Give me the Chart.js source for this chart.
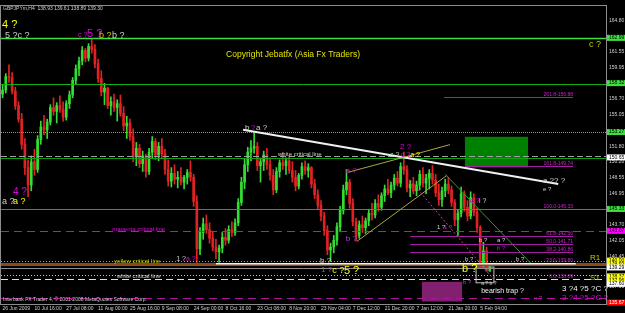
<!DOCTYPE html>
<html lang="en">
<head>
<meta charset="UTF-8">
<title>GBPJPYm,H4</title>
<script src="https://cdn.jsdelivr.net/npm/chart.js"></script>
<style>
  html, body { margin: 0; padding: 0; background: #000; }
  canvas { display: block; }
</style>
</head>
<body>
<canvas id="chart" width="625" height="313"></canvas>
<script>
// ---- time axis: one label every 10 bars ----
const timeLabels = ['26 Jun 2009', '10 Jul 16:00', '27 Jul 08:00', '11 Aug 00:00', '25 Aug 16:00',
  '9 Sep 08:00', '24 Sep 00:00', '8 Oct 16:00', '23 Oct 08:00', '8 Nov 20:00', '23 Nov 04:00',
  '7 Dec 12:00', '21 Dec 20:00', '7 Jan 12:00', '21 Jan 20:00', '5 Feb 04:00'];
const barSlots = 190;

// ---- price bars (open = previous close) ----
const firstOpen = 157.2;
const highs = [158.1,159.3,160.2,159.4,157.9,156.4,155.2,152.6,150.4,150.8,
  151.5,152.9,154.4,155.0,154.6,156.1,156.8,156.3,157.0,156.4,
  156.5,157.5,158.9,160.2,161.0,162.1,161.9,162.4,162.9,162.3,
  160.8,159.6,158.3,157.9,156.9,157.2,156.6,157.1,155.9,154.9,
  154.6,153.6,152.2,152.0,151.3,151.0,151.6,152.8,152.6,152.2,
  152.6,151.5,150.4,149.6,149.9,149.2,149.6,148.8,149.4,150.3,
  148.9,146.7,143.4,144.4,144.7,143.9,143.0,142.2,141.6,142.9,
  143.3,143.6,144.0,144.3,146.4,148.6,150.5,151.7,152.4,153.2,
  152.2,150.6,151.3,151.6,150.6,149.4,149.6,150.4,151.1,150.6,
  150.8,150.2,149.3,149.0,150.1,150.3,150.0,149.7,148.4,147.3,
  146.2,145.0,143.6,141.8,142.6,143.9,145.6,147.8,149.4,148.4,
  146.4,144.4,144.1,144.6,144.4,145.3,145.9,146.3,146.8,147.0,
  147.8,148.4,148.1,148.9,149.2,150.1,151.2,149.8,148.3,148.6,
  148.2,149.3,149.6,148.9,149.4,149.8,148.9,147.9,147.6,148.4,
  148.6,147.7,146.3,145.3,147.6,147.2,146.2,147.1,146.9,145.4,
  143.6,141.9,141.4,139.61];
const lows = [156.8,157.3,158.4,157.2,155.6,154.3,151.5,148.9,146.6,147.2,
  148.8,149.1,152.0,153.0,152.6,154.0,155.0,154.2,155.3,154.4,
  154.5,155.7,156.8,158.2,159.1,160.2,160.5,160.6,161.4,159.9,
  158.4,157.0,156.1,155.7,155.0,155.4,154.4,154.9,153.4,152.6,
  152.4,150.2,149.8,149.6,149.2,148.6,148.9,150.6,150.4,150.3,
  150.6,148.9,147.7,147.6,147.9,147.5,147.8,147.4,147.9,148.2,
  145.6,139.8,140.6,142.2,142.8,141.8,141.0,140.2,139.8,140.8,
  141.6,141.8,142.5,142.6,143.6,145.7,147.4,149.2,150.3,151.1,
  149.3,148.1,149.3,149.4,148.3,146.8,147.0,148.6,149.4,148.9,
  149.0,148.1,147.2,147.4,148.4,148.9,148.6,147.5,146.4,145.3,
  144.1,142.6,140.6,139.9,140.8,141.6,143.1,144.8,146.8,145.4,
  143.6,142.0,142.3,142.9,142.8,143.6,144.2,144.4,145.1,145.2,
  146.1,146.8,146.5,147.3,147.7,147.6,148.9,147.1,146.6,146.9,
  146.7,147.3,147.6,146.9,147.4,147.9,146.6,145.7,145.6,146.6,
  146.9,145.6,143.6,142.6,144.5,145.1,144.1,144.3,144.6,142.9,
  139.2,139.4,138.9,138.89];
const closes = [157.6,159.0,158.9,157.5,156.0,154.6,152.0,149.6,147.8,150.2,
  149.4,152.5,153.8,153.5,154.3,155.8,155.4,156.0,155.6,154.8,
  156.2,157.1,158.6,159.8,160.6,161.7,160.9,162.1,161.8,160.3,
  158.8,157.4,157.8,156.0,156.4,155.8,156.2,155.2,153.9,154.2,
  152.8,150.7,151.6,150.0,150.8,149.2,151.2,152.3,150.9,151.8,
  151.0,149.4,148.2,149.0,148.4,148.6,148.1,148.6,149.1,148.6,
  146.1,141.2,142.9,143.8,143.2,142.3,141.4,140.9,141.3,142.4,
  142.1,143.2,142.9,143.9,146.0,148.1,149.9,151.2,151.6,151.8,
  149.8,150.2,150.9,149.9,148.8,147.3,149.2,150.1,149.8,150.3,
  149.3,148.6,147.7,148.8,149.7,149.3,149.6,147.9,146.8,145.7,
  144.6,143.1,141.1,141.4,142.1,143.5,145.2,147.3,148.1,145.9,
  144.0,142.6,143.7,143.4,144.1,144.9,144.7,145.9,145.5,146.7,
  147.4,147.0,147.8,148.5,148.0,149.7,149.4,147.5,147.9,147.2,
  147.8,148.9,148.0,148.5,149.0,148.3,147.0,146.3,147.2,147.9,
  147.3,146.0,144.2,144.9,146.9,145.5,144.6,146.5,145.0,143.4,
  139.7,141.0,138.93,139.30];

// ---- price axis ----
const priceMin = 135.52;
const priceMax = 166.28;
const yTicks = [164.80, 161.55, 159.95, 156.70, 155.05, 151.80, 150.20, 148.55, 146.95, 143.70, 142.05, 140.45, 137.30];
const markPrices = [162.99, 158.32, 153.27, 150.65, 145.33, 143.07, 140.00, 139.65, 139.29, 138.37, 137.96, 137.60, 135.67];
const markFills = ['#3de03d', '#3de03d', '#3de03d', '#ffffff', '#3de03d', '#ff00ff', '#ffff00', '#ffff00', '#ffffff', '#ffff00', '#ffff00', '#ffffff', '#ff0000'];

// ---- horizontal levels ----
const levelPrices = [162.99, 158.20, 153.27, 150.60, 150.78, 145.33, 143.07, 140.00, 139.62, 139.25, 138.53, 138.12, 136.10];
const levelStyles = [
  { color: '#3de03d', width: 1.5, dash: [] },
  { color: '#12b012', width: 1, dash: [] },
  { color: '#33cc33', width: 1, dash: [1, 1] },
  { color: '#12a012', width: 1, dash: [] },
  { color: '#a0a0a0', width: 1, dash: [6, 3] },
  { color: '#12b012', width: 1, dash: [] },
  { color: '#c010c0', width: 1, dash: [8, 5] },
  { color: '#b8b800', width: 1, dash: [1, 2] },
  { color: '#8b4a1a', width: 3, dash: [] },
  { color: '#909090', width: 1, dash: [] },
  { color: '#c0c0c0', width: 1, dash: [1, 2] },
  { color: '#e0e0e0', width: 1, dash: [7, 4] },
  { color: '#b010a0', width: 1, dash: [8, 5] }
];

// ---- fibonacci levels ----
const fibLevels = ['261.8', '161.8', '100.0', '61.8', '50.0', '38.2', '23.6', '0.0'];
const fibPrices = [156.88, 149.74, 145.33, 142.56, 141.71, 140.86, 139.80, 138.09];
const fibFrom = [138.6, 145.2, null, 128, 128, 128, null, null];
const fibTo = 179.15;

// ---- trend lines (bar index / price) ----
const trendX = [[75.5, 174.5], [108.5, 125.8, 140.5], [111.3, 139.6], [139.0, 165.8], [128.0, 154.6], [67, 180]];
const trendP = [[153.50, 147.90], [149.12, 150.65, 151.97], [141.99, 148.81], [148.91, 139.75], [148.30, 137.91], [139.68, 139.68]];
const trendStyles = [
  { color: '#f0f0f0', width: 2, dash: [] },
  { color: '#a8a840', width: 1, dash: [] },
  { color: '#a8a840', width: 1, dash: [] },
  { color: '#2e9a2e', width: 1, dash: [] },
  { color: '#c04090', width: 1, dash: [2, 2] },
  { color: '#f0f0f0', width: 1.5, dash: [] }
];

// ---- rectangles ----
const boxX0 = [145.2, 131.7, 148.7];
const boxX1 = [165.0, 144.3, 154.3];
const boxP0 = [152.78, 137.81, 139.34];
const boxP1 = [149.63, 135.78, 137.71];
const boxStyles = [{ fill: '#008000' }, { fill: '#80206e' }, { stroke: '#c0c0c0' }];

// ---- wave labels ----
const noteText = ['4 ?', '5 ?c ?', 'c ?', '5 ?', 'b ?', 'b ?', 'Copyright Jebatfx (Asia Fx Traders)', 'c ?',
  '4 ?', 'a ?', 'a ?', 'b', '?', 'a ?', 'white critical line', '2 ?', 'c ?', 'c ?', 'a ?', 'a ?', 'b ?',
  'b ?', '1 ?', 'c ?', '5 ?', '1 ?', 'a ?', 'yellow critical line', 'magenta critical line', 'white critical line',
  'a ?? ?', 'e ?', 'd ?', 'i ?', '1 ?', '1 ?', 'b ?', 'a ?', 'b ?', 'b ?', 'b ?', 'b ?', 'R1', 'S1',
  'bearish trap ?', '3 ?4 ?5 ?C ?', '3 ?4 ?5 ?C ?', 'x ?', 'b ?', 'a ? b ?'];
const noteX = [-0.19, 0.76, 23.68, 26.5, 30.28, 34.36, 70.2, 184.2,
  3.27, -0.19, 3.27, 76.13, 78.0, 79.6, 86.5, 124.8, 121.7, 125.1, 128.0, 107.8, 107.8,
  99.7, 100.0, 103.5, 107.2, 54.5, 57.6, 35.0, 34.4, 35.9,
  169.7, 169.7, 146.8, 149.6, 136.4, 138.6, 149.6, 155.3, 155.3, 145.2, 161.2, 144.3, 184.5, 184.5,
  150.3, 175.7, 175.7, 166.9, 144.6, 150.3];
const noteP = [164.29, 163.28, 163.28, 163.38, 163.28, 163.28, 161.24, 162.26,
  147.08, 146.06, 146.06, 153.70, 153.70, 153.70, 150.95, 151.77, 150.85, 150.85, 150.85, 149.32, 142.29,
  139.95, 139.03, 138.93, 138.93, 140.16, 140.16, 139.95, 143.21, 138.42,
  148.20, 147.39, 146.16, 146.16, 143.41, 143.41, 142.09, 142.09, 141.28, 140.16, 140.16, 139.14, 140.26, 138.22,
  136.90, 137.10, 136.18, 136.08, 137.71, 137.61];
const noteColor = ['yellow', 'gray', 'magenta', 'magenta', 'olive', 'gray', 'copy', 'olive',
  'magenta', 'gray', 'yellow', 'gray', 'magenta', 'gray', 'gray', 'magenta', 'gray', 'magenta', 'yellow', 'magenta', 'purple',
  'gray', 'purple', 'yellow', 'yellow', 'gray', 'magenta', 'olive', 'magenta', 'gray',
  'gray', 'gray', 'magenta', 'gray', 'gray', 'magenta', 'gray', 'gray', 'magenta', 'gray', 'gray', 'yellow', 'olive', 'olive',
  'white', 'white', 'magenta', 'magenta', 'purple', 'gray'];
const noteSize = [11, 9, 7, 11, 9, 9, 8.5, 9,
  10, 9, 9, 8, 8, 8, 6, 8, 7, 7, 7, 8, 8,
  8, 8, 9, 11, 7, 7, 6, 6, 6,
  8, 6, 7, 7, 6, 6, 6, 6, 6, 6, 6, 11, 8, 8,
  7, 8, 8, 6, 6, 5];
const palette = { yellow: '#ffff00', gray: '#cfcfcf', white: '#f0f0f0', magenta: '#e000e0',
  purple: '#b040e0', olive: '#c8c800', copy: '#e6e600' };

const header = 'GBPJPYm,H4  138.93 139.61 138.89 139.30';
const footer = 'Interbank FX Trader 4, \u00a9 2001-2008 MetaQuotes Software Corp.';

// ---- build chart data ----
const FONT = '"Liberation Sans", Arial, sans-serif';
const catLabels = [];
for (let i = 0; i < barSlots; i++) {
  catLabels.push(i % 10 === 0 && timeLabels[i / 10] ? timeLabels[i / 10] : '');
}
const opens = closes.map((c, i) => (i === 0 ? firstOpen : closes[i - 1]));
const barColors = closes.map((c, i) => (c >= opens[i] ? '#33dd33' : '#e02222'));

function drawSeg(ctx, pts, style) {
  ctx.save();
  ctx.strokeStyle = style.color;
  ctx.lineWidth = style.width;
  ctx.setLineDash(style.dash);
  ctx.beginPath();
  pts.forEach((p, k) => (k ? ctx.lineTo(p[0], p[1]) : ctx.moveTo(p[0], p[1])));
  ctx.stroke();
  ctx.restore();
}

const overlay = {
  id: 'overlay',
  beforeDraw(chart) {
    const { ctx, width, height } = chart;
    ctx.save();
    ctx.fillStyle = '#000';
    ctx.fillRect(0, 0, width, height);
    ctx.restore();
  },
  beforeDatasetsDraw(chart) {
    const { ctx, scales: { x, y } } = chart;
    boxStyles.forEach((s, k) => {
      const x0 = x.getPixelForValue(boxX0[k]), x1 = x.getPixelForValue(boxX1[k]);
      const y0 = y.getPixelForValue(boxP0[k]), y1 = y.getPixelForValue(boxP1[k]);
      ctx.save();
      if (s.fill) { ctx.fillStyle = s.fill; ctx.fillRect(x0, y0, x1 - x0, y1 - y0); }
      if (s.stroke) { ctx.strokeStyle = s.stroke; ctx.lineWidth = 1; ctx.strokeRect(x0, y0, x1 - x0, y1 - y0); }
      ctx.restore();
    });
  },
  afterDatasetsDraw(chart) {
    const { ctx, chartArea: a, scales: { x, y } } = chart;

    levelPrices.forEach((p, k) => {
      const yy = Math.round(y.getPixelForValue(p)) + 0.5;
      drawSeg(ctx, [[a.left, yy], [a.right, yy]], levelStyles[k]);
    });

    trendX.forEach((xs, k) => {
      const pts = xs.map((v, j) => [x.getPixelForValue(v), y.getPixelForValue(trendP[k][j])]);
      drawSeg(ctx, pts, trendStyles[k]);
    });

    // fibonacci lines and labels
    ctx.save();
    ctx.font = '5px ' + FONT;
    ctx.textAlign = 'right';
    ctx.textBaseline = 'bottom';
    const xEnd = x.getPixelForValue(fibTo);
    fibPrices.forEach((p, k) => {
      const yy = Math.round(y.getPixelForValue(p)) + 0.5;
      if (fibFrom[k] !== null) {
        drawSeg(ctx, [[x.getPixelForValue(fibFrom[k]), yy], [xEnd, yy]], { color: '#a020a0', width: 1, dash: [] });
      }
      ctx.fillStyle = '#d020d0';
      ctx.fillText(fibLevels[k] + '-' + p.toFixed(2), xEnd, yy - 0.5);
    });
    ctx.restore();

    // wave labels
    ctx.save();
    ctx.textAlign = 'left';
    ctx.textBaseline = 'middle';
    noteText.forEach((t, k) => {
      ctx.font = noteSize[k] + 'px ' + FONT;
      ctx.fillStyle = palette[noteColor[k]];
      ctx.fillText(t, x.getPixelForValue(noteX[k]), y.getPixelForValue(noteP[k]));
    });
    ctx.restore();
  },
  afterDraw(chart) {
    const { ctx, chartArea: a, scales: { y }, width } = chart;
    ctx.save();
    ctx.strokeStyle = '#8c8c8c';
    ctx.lineWidth = 1;
    ctx.strokeRect(a.left - 0.5, a.top - 0.5, a.right - a.left + 1, a.bottom - a.top + 1);

    ctx.font = '5px ' + FONT;
    ctx.textBaseline = 'middle';
    ctx.textAlign = 'left';
    ctx.fillStyle = '#cfcfcf';
    ctx.fillText(header, a.left + 2, a.top + 3);
    ctx.fillText(footer, a.left + 2, a.bottom - 4);

    // highlighted prices on the axis
    markPrices.forEach((p, k) => {
      const yy = y.getPixelForValue(p);
      ctx.fillStyle = markFills[k];
      ctx.fillRect(a.right + 1, yy - 3, width - a.right - 1, 6);
      ctx.fillStyle = markFills[k] === '#ff0000' ? '#ffffff' : '#000000';
      ctx.fillText(p.toFixed(2), a.right + 3, yy);
    });
    ctx.restore();
  }
};

new Chart(document.getElementById('chart'), {
  type: 'bar',
  data: {
    labels: catLabels,
    datasets: [
      {
        label: 'range',
        data: highs.map((h, i) => [lows[i], h]),
        backgroundColor: barColors,
        barThickness: 1,
        grouped: false
      },
      {
        label: 'body',
        data: closes.map((c, i) => [opens[i], c]),
        backgroundColor: barColors,
        barThickness: 2,
        minBarLength: 1,
        grouped: false
      }
    ]
  },
  options: {
    responsive: false,
    animation: false,
    devicePixelRatio: 1,
    layout: { padding: { left: 1, top: 2, right: 0, bottom: 0 } },
    plugins: { legend: { display: false }, tooltip: { enabled: false } },
    scales: {
      x: {
        grid: { display: false, drawTicks: false },
        border: { display: false },
        ticks: {
          autoSkip: false, maxRotation: 0, minRotation: 0, align: 'start',
          color: '#cfcfcf', font: { size: 5, family: FONT }, padding: 2
        },
        afterFit(scale) { scale.height = 9; }
      },
      y: {
        position: 'right',
        min: priceMin,
        max: priceMax,
        grid: { display: false, drawTicks: false },
        border: { display: false },
        afterBuildTicks(scale) { scale.ticks = yTicks.map(v => ({ value: v })); },
        ticks: {
          autoSkip: false, color: '#cfcfcf', font: { size: 5, family: FONT }, padding: 3,
          callback: v => v.toFixed(2)
        },
        afterFit(scale) { scale.width = 19; }
      }
    }
  },
  plugins: [overlay]
});
</script>
</body>
</html>
